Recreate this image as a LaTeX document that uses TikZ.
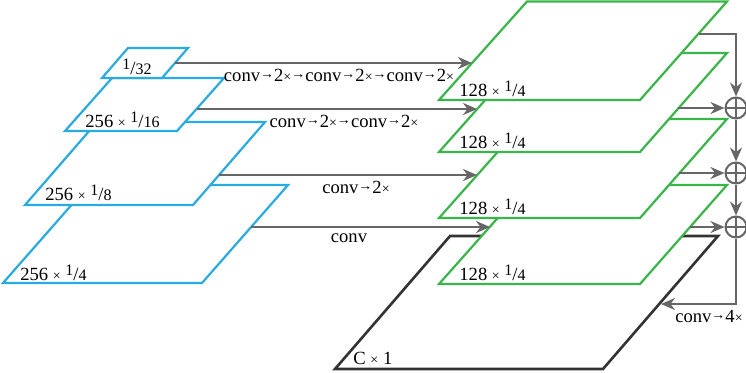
\documentclass[tikz,border=0pt]{standalone}
\usepackage{fontspec}
\setmainfont{Liberation Serif}
\usetikzlibrary{arrows.meta}

\definecolor{fpnblue}{HTML}{29ABE2}
\definecolor{headgreen}{HTML}{39B54A}
\definecolor{flowgray}{HTML}{666666}
\definecolor{outdark}{HTML}{333333}

\newcommand{\frc}[2]{\raisebox{0.55ex}{\footnotesize #1}/{\footnotesize #2}}
\newcommand{\tms}{{\scriptsize ×}}
\newcommand{\tto}{\raisebox{0.25ex}{\scriptsize →}}

\tikzset{
  fpn/.style={draw=fpnblue, line width=1.1pt, fill=white},
  head/.style={draw=headgreen, line width=1.1pt, fill=white},
  outmap/.style={draw=outdark, line width=1.3pt, fill=white},
  flow/.style={draw=flowgray, line width=1.4pt, -{Stealth[length=7pt,width=6pt]}},
  sumnode/.style={circle, draw=flowgray, line width=1pt, fill=white,
    minimum size=10.5pt, inner sep=0pt,
    path picture={\draw[flowgray, line width=0.7pt]
      (path picture bounding box.north) -- (path picture bounding box.south)
      (path picture bounding box.west) -- (path picture bounding box.east);}},
  lbl/.style={inner sep=0pt, font=\fontsize{9.3}{11}\selectfont}
}

\begin{document}
\begin{tikzpicture}[x=0.5pt, y=-0.5pt]
    \useasboundingbox (0,0) rectangle (746,372);

    % Pyramide (bleu), du bas vers le haut
    \draw[fpn] (3,283) -- (202,283) -- (288,185) -- (89,185) -- cycle;
    \draw[fpn] (25,205) -- (193,205) -- (265,122) -- (97,122) -- cycle;
    \draw[fpn] (65,131) -- (177,131) -- (224,78) -- (112,78) -- cycle;
    \draw[fpn] (102,78) -- (162,78) -- (188,48) -- (128,48) -- cycle;

    \node[lbl, anchor=base west] (b4) at (20,280) {256 \tms{} \frc{1}{4}};
    \node[lbl, anchor=base west] (b8) at (45,200) {256 \tms{} \frc{1}{8}};
    \node[lbl, anchor=base west] (b16) at (85,127) {256 \tms{} \frc{1}{16}};
    \node[lbl, anchor=base west] (b32) at (122,74) {\frc{1}{32}};

    % Sortie (noir)
    \draw[outmap] (335,369) -- (603,369) -- (718,236) -- (450,236) -- cycle;
    \node[lbl, anchor=base west] (cout) at (353,364) {C \tms{} 1};

    % Couches vertes, du bas vers le haut
    \foreach \t/\b/\n in {185/284/4, 119/218/3, 53/152/2, 1.5/100/1} {
        \draw[head] (439,\b) -- (640,\b) -- (727,\t) -- (527,\t) -- cycle;
        \node[lbl, anchor=base west] (g\n) at (459,\b-4) {128 \tms{} \frc{1}{4}};
    }

    % Points de depart et d'arrivee
    \coordinate (p32) at (175,63);
    \coordinate (p16) at (197,109);
    \coordinate (p8) at (219,175);
    \coordinate (p4) at (251,227);
    \coordinate (q1) at (472,63);
    \coordinate (q2) at (477,109);
    \coordinate (q3) at (477,175);
    \coordinate (q4) at (490,227);
    \coordinate (h1) at (699,34);
    \coordinate (h2) at (678,108);
    \coordinate (h3) at (679,173);
    \coordinate (h4) at (690,227);
    \coordinate (m) at (661,304);

    % Fleches de la pyramide vers les couches vertes
    \draw[flow] (p32) -- (q1);
    \draw[flow] (p16) -- (q2);
    \draw[flow] (p8) -- (q3);
    \draw[flow] (p4) -- (q4);
    \node[lbl] (c1) at (339,75) {conv\tto2\tms\tto conv\tto2\tms\tto conv\tto2\tms};
    \node[lbl] (c2) at (344,121) {conv\tto2\tms\tto conv\tto2\tms};
    \node[lbl] (c3) at (356,187) {conv\tto2\tms};
    \node[lbl] (c4) at (349,238) {conv};

    % Sommes
    \node[sumnode] (s1) at (736,108) {};
    \node[sumnode] (s2) at (736,173) {};
    \node[sumnode] (s3) at (736,227) {};

    \draw[flow] (h1) -| (s1);
    \draw[flow] (h2) -- (s1);
    \draw[flow] (h3) -- (s2);
    \draw[flow] (h4) -- (s3);
    \draw[flow] (s1) -- (s2);
    \draw[flow] (s2) -- (s3);
    \draw[flow] (s3) |- (m);
    \node[lbl] (c5) at (709,316) {conv\tto4\tms};
\end{tikzpicture}
\end{document}
